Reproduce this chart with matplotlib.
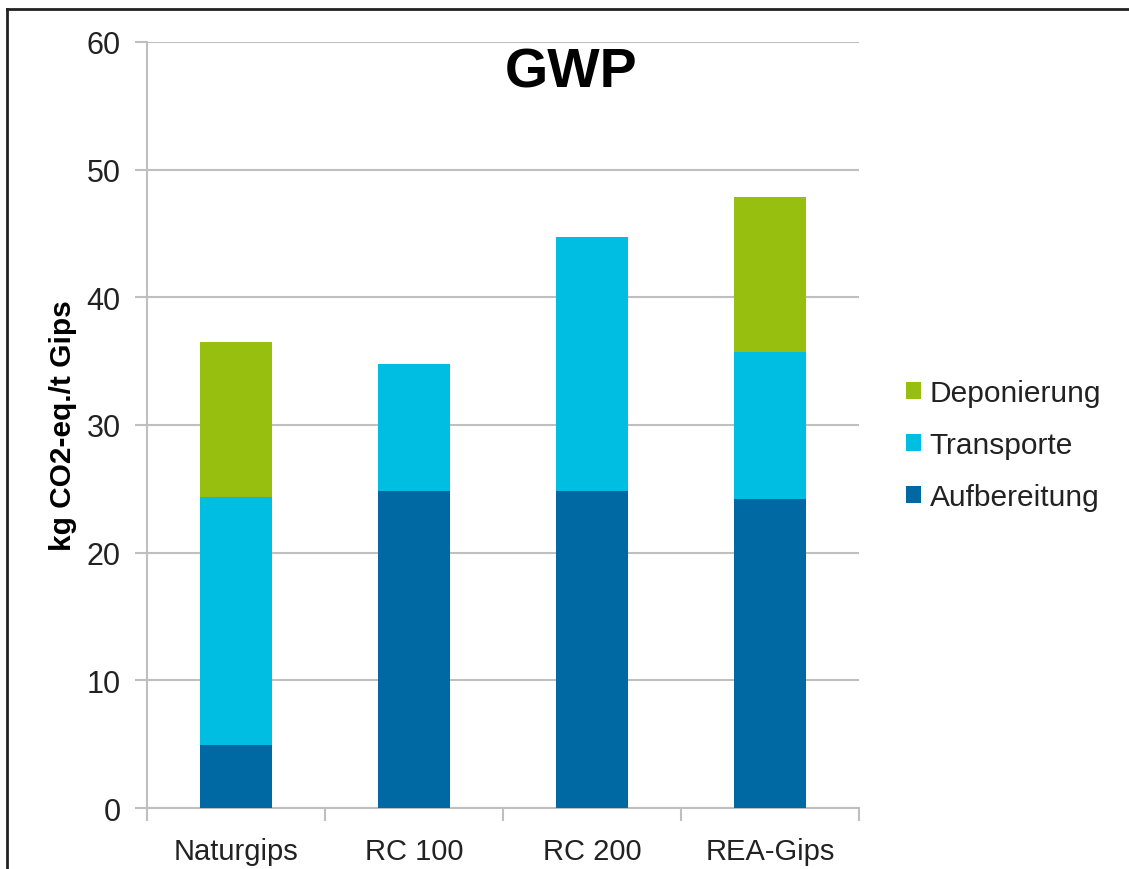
import matplotlib.pyplot as plt
from matplotlib.lines import Line2D
import numpy as np

plt.rcParams['font.family'] = ['Liberation Sans', 'DejaVu Sans']

# Daten (kg CO2-eq./t Gips)
categories = ["Naturgips", "RC 100", "RC 200", "REA-Gips"]
aufbereitung = [4.9, 24.8, 24.8, 24.2]
transporte = [19.45, 10.0, 19.9, 11.5]
deponierung = [12.15, 0.0, 0.0, 12.15]

colors = {"Aufbereitung": "#0068A3", "Transporte": "#00BDE2", "Deponierung": "#97BF0F"}

fig = plt.figure(figsize=(11.29, 8.70), dpi=100)
ax = fig.add_axes([0.1302, 0.0701, 0.6307, 0.8805])

x = np.arange(len(categories))
w = 0.4
ax.bar(x, aufbereitung, w, color=colors["Aufbereitung"], label="Aufbereitung", zorder=3)
ax.bar(x, transporte, w, bottom=aufbereitung, color=colors["Transporte"], label="Transporte", zorder=3)
bottom2 = np.array(aufbereitung) + np.array(transporte)
ax.bar(x, deponierung, w, bottom=bottom2, color=colors["Deponierung"], label="Deponierung", zorder=3)

ax.set_xlim(-0.5, len(categories) - 0.5)
ax.set_ylim(0, 60)
ax.set_yticks(range(0, 61, 10))
ax.yaxis.grid(True, color="#BFBFBF", linewidth=1.5, zorder=0)

ax.set_xticks(x)
ax.set_xticklabels(categories, fontsize=21, color="#222222")
ax.set_xticks(np.arange(-0.5, len(categories), 1), minor=True)
ax.tick_params(axis="x", which="major", length=0, pad=21)
ax.tick_params(axis="x", which="minor", length=9, width=1.5, color="#BFBFBF", direction="out")
ax.tick_params(axis="y", length=9, width=1.5, color="#BFBFBF", labelsize=22,
               labelcolor="#222222", pad=10)

for s in ["top", "right"]:
    ax.spines[s].set_visible(False)
for s in ["left", "bottom"]:
    ax.spines[s].set_color("#BFBFBF")
    ax.spines[s].set_linewidth(1.5)

ax.set_ylabel("kg CO2-eq./t Gips", fontsize=21.5, fontweight="bold", labelpad=7)
ax.text(0.5955, 0.9413, "GWP", transform=ax.transAxes, ha="center", va="baseline",
        fontsize=40, fontweight="bold")

handles, labels = ax.get_legend_handles_labels()
leg = fig.legend(handles[::-1], labels[::-1], loc="center left",
                 bbox_to_anchor=(0.789, 0.487), frameon=False, fontsize=21.5,
                 handlelength=0.5, handleheight=0.5, handletextpad=0.3,
                 labelspacing=0.8, borderpad=0)
for t in leg.get_texts():
    t.set_color("#222222")

# Rahmen oben und links
fig.add_artist(Line2D([0.006, 1.0], [0.9885, 0.9885], transform=fig.transFigure,
                      color="#222222", linewidth=2))
fig.add_artist(Line2D([0.0065, 0.0065], [0.0, 0.9885], transform=fig.transFigure,
                      color="#222222", linewidth=2))

plt.savefig("out.png", dpi=100)
